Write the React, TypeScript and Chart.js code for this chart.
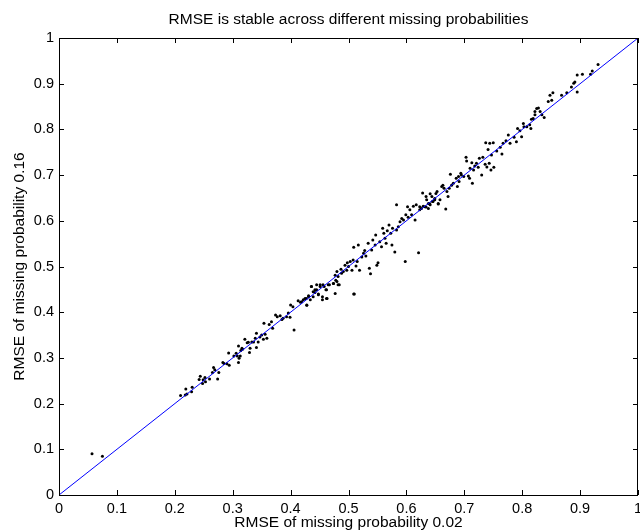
import React, { useEffect, useRef } from "react";
import { Chart, registerables } from "chart.js";

Chart.register(...registerables);

const chartTitle = "RMSE is stable across different missing probabilities";
const xAxisTitle = "RMSE of missing probability 0.02";
const yAxisTitle = "RMSE of missing probability 0.16";
const tickValues = [0, 0.1, 0.2, 0.3, 0.4, 0.5, 0.6, 0.7, 0.8, 0.9, 1];
const diagonalX = [0, 1];
const diagonalY = [0, 1];

// RMSE at missing probability 0.02 (x) and 0.16 (y)
const rmse002 = [
  0.057, 0.075,
  0.210, 0.218, 0.221, 0.219, 0.229, 0.230, 0.244, 0.242, 0.249, 0.248, 0.252, 0.253, 0.260, 0.267,
  0.269, 0.265, 0.276, 0.274, 0.283, 0.285, 0.290, 0.294, 0.293, 0.302, 0.306, 0.310, 0.308, 0.311,
  0.310, 0.314, 0.316, 0.321, 0.327, 0.330, 0.329, 0.333, 0.339, 0.341, 0.341, 0.344, 0.347, 0.350,
  0.353, 0.356, 0.359, 0.406,
  0.313, 0.317, 0.325, 0.336, 0.354, 0.363, 0.367, 0.369, 0.374, 0.377, 0.382, 0.385, 0.387, 0.393,
  0.396, 0.399, 0.400, 0.404, 0.413, 0.417, 0.422, 0.427, 0.428, 0.431, 0.434, 0.436, 0.439, 0.442,
  0.445, 0.448, 0.451, 0.455, 0.458, 0.462, 0.463, 0.467, 0.474, 0.477, 0.480, 0.482, 0.509,
  0.419, 0.425, 0.428, 0.431, 0.436, 0.439, 0.442, 0.445, 0.448, 0.451, 0.455, 0.456, 0.461, 0.462,
  0.465, 0.474, 0.477, 0.478, 0.480, 0.482, 0.484, 0.487, 0.488, 0.491, 0.494, 0.497, 0.498, 0.500,
  0.503, 0.506, 0.508, 0.509, 0.510, 0.513, 0.515, 0.517, 0.519, 0.523, 0.526, 0.528, 0.530, 0.534,
  0.536, 0.538, 0.540, 0.542, 0.546, 0.547, 0.549, 0.551, 0.554, 0.557, 0.559, 0.561, 0.563, 0.565,
  0.567, 0.570, 0.573, 0.575, 0.576, 0.580, 0.583, 0.583, 0.586, 0.589, 0.592, 0.595, 0.598, 0.599,
  0.602, 0.603, 0.606, 0.609, 0.612, 0.615, 0.617, 0.621, 0.623, 0.626, 0.629, 0.634, 0.638, 0.641,
  0.645, 0.649, 0.655, 0.668,
  0.623, 0.628, 0.632, 0.634, 0.635, 0.638, 0.640, 0.641, 0.644, 0.646, 0.649, 0.651, 0.653, 0.655,
  0.658, 0.661, 0.663, 0.665, 0.670, 0.672, 0.674, 0.676, 0.678, 0.681, 0.686, 0.688, 0.690, 0.691,
  0.694, 0.695, 0.699, 0.703, 0.704, 0.707, 0.709, 0.710, 0.713, 0.714, 0.716, 0.718, 0.721, 0.724,
  0.726, 0.730, 0.732, 0.736, 0.737, 0.739, 0.741, 0.743, 0.744, 0.746, 0.747, 0.750, 0.751, 0.756,
  0.762, 0.765, 0.767, 0.772, 0.776, 0.779, 0.786, 0.790, 0.792, 0.796, 0.799, 0.802, 0.803, 0.808,
  0.813, 0.815, 0.816, 0.819, 0.822, 0.822, 0.825, 0.828, 0.831, 0.834, 0.838, 0.845, 0.848, 0.851,
  0.853, 0.868, 0.877, 0.885, 0.889, 0.891, 0.895, 0.895, 0.904, 0.918, 0.921, 0.931,
];

const rmse016 = [
  0.090, 0.085,
  0.218, 0.219, 0.221, 0.232, 0.226, 0.236, 0.260, 0.253, 0.252, 0.244, 0.257, 0.248, 0.254, 0.279,
  0.274, 0.268, 0.268, 0.254, 0.290, 0.288, 0.287, 0.284, 0.311, 0.304, 0.310, 0.326, 0.304, 0.299,
  0.290, 0.316, 0.321, 0.341, 0.334, 0.321, 0.312, 0.335, 0.343, 0.354, 0.323, 0.335, 0.346, 0.350,
  0.341, 0.352, 0.343, 0.361,
  0.304, 0.319, 0.333, 0.335, 0.376, 0.373, 0.379, 0.365, 0.394, 0.390, 0.392, 0.384, 0.387, 0.390,
  0.398, 0.389, 0.416, 0.412, 0.425, 0.422, 0.427, 0.430, 0.416, 0.436, 0.427, 0.456, 0.434, 0.443,
  0.449, 0.438, 0.460, 0.427, 0.456, 0.449, 0.430, 0.460, 0.463, 0.441, 0.467, 0.460, 0.440,
  0.423, 0.430, 0.415, 0.434, 0.456, 0.445, 0.449, 0.460, 0.440, 0.456, 0.434, 0.460, 0.449, 0.430,
  0.460, 0.463, 0.481, 0.470, 0.489, 0.478, 0.460, 0.494, 0.485, 0.489, 0.503, 0.492, 0.508, 0.500,
  0.511, 0.492, 0.514, 0.542, 0.440, 0.501, 0.511, 0.547, 0.492, 0.521, 0.529, 0.535, 0.523, 0.551,
  0.496, 0.484, 0.536, 0.558, 0.547, 0.569, 0.503, 0.508, 0.554, 0.543, 0.584, 0.573, 0.562, 0.551,
  0.578, 0.591, 0.573, 0.547, 0.584, 0.532, 0.635, 0.580, 0.587, 0.598, 0.605, 0.602, 0.511, 0.613,
  0.631, 0.608, 0.624, 0.613, 0.632, 0.602, 0.635, 0.530, 0.631, 0.627, 0.632, 0.630, 0.638, 0.635,
  0.642, 0.646, 0.637, 0.626,
  0.624, 0.661, 0.631, 0.653, 0.646, 0.627, 0.638, 0.659, 0.653, 0.642, 0.649, 0.660, 0.664, 0.638,
  0.646, 0.675, 0.678, 0.671, 0.664, 0.653, 0.671, 0.702, 0.678, 0.682, 0.693, 0.675, 0.697, 0.686,
  0.704, 0.700, 0.697, 0.739, 0.731, 0.698, 0.693, 0.715, 0.727, 0.682, 0.711, 0.720, 0.726, 0.717,
  0.737, 0.700, 0.739, 0.724, 0.771, 0.718, 0.756, 0.726, 0.770, 0.711, 0.744, 0.771, 0.717, 0.753,
  0.761, 0.746, 0.770, 0.775, 0.788, 0.770, 0.783, 0.773, 0.802, 0.797, 0.784, 0.813, 0.806, 0.806,
  0.810, 0.802, 0.822, 0.824, 0.832, 0.839, 0.846, 0.847, 0.839, 0.832, 0.826, 0.861, 0.875, 0.864,
  0.880, 0.875, 0.880, 0.893, 0.901, 0.904, 0.882, 0.919, 0.921, 0.921, 0.928, 0.942,
];

const FONT = "'Liberation Sans', Arial, Helvetica, sans-serif";

const inwardTicks = {
  id: "inwardTicks",
  afterDraw(chart: any) {
    const { ctx, chartArea, scales } = chart;
    const { left, right, top, bottom } = chartArea;
    const len = 5;
    ctx.save();
    ctx.strokeStyle = "#000";
    ctx.lineWidth = 1;
    ctx.beginPath();
    for (const v of tickValues) {
      const x = Math.round(scales.x.getPixelForValue(v)) + 0.5;
      ctx.moveTo(x, bottom);
      ctx.lineTo(x, bottom - len);
      ctx.moveTo(x, top);
      ctx.lineTo(x, top + len);
      const y = Math.round(scales.y.getPixelForValue(v)) + 0.5;
      ctx.moveTo(left, y);
      ctx.lineTo(left + len, y);
      ctx.moveTo(right, y);
      ctx.lineTo(right - len, y);
    }
    ctx.stroke();
    ctx.beginPath();
    ctx.rect(Math.round(left) + 0.5, Math.round(top) + 0.5, Math.round(right - left) - 1, Math.round(bottom - top));
    ctx.stroke();
    ctx.restore();
  },
};

export default function App() {
  const ref = useRef<HTMLCanvasElement | null>(null);

  useEffect(() => {
    document.body.style.margin = "0";
    const canvas = ref.current;
    if (!canvas) return;
    const scatterData = rmse002.map((x, i) => ({ x, y: rmse016[i] }));
    const lineData = diagonalX.map((x, i) => ({ x, y: diagonalY[i] }));
    const fmt = (v: any) => {
      const n = Number(Number(v).toFixed(1));
      return tickValues.some((t) => Math.abs(t - n) < 1e-9) ? String(n) : "";
    };
    const chart = new Chart(canvas, {
      type: "scatter",
      data: {
        datasets: [
          {
            type: "line",
            label: "y = x",
            data: lineData,
            borderColor: "#0000ff",
            borderWidth: 1,
            pointRadius: 0,
            fill: false,
            showLine: true,
          } as any,
          {
            label: "RMSE",
            data: scatterData,
            backgroundColor: "#000",
            borderWidth: 0,
            pointRadius: 1.5,
            pointHoverRadius: 1.5,
          },
        ],
      },
      options: {
        responsive: false,
        animation: false,
        events: [],
        layout: { padding: { top: 0, right: 2, bottom: 0, left: 0 } },
        plugins: {
          legend: { display: false },
          tooltip: { enabled: false },
          title: {
            display: true,
            fullSize: false,
            text: chartTitle,
            color: "#000",
            font: { family: FONT, size: 15.5, weight: "normal", lineHeight: 1.15 },
            padding: { top: 11, bottom: 9.2 },
          },
        },
        scales: {
          x: {
            type: "linear",
            min: 0,
            max: 1,
            afterFit: (s: any) => {
              s.height = 37;
              s.paddingLeft = 0;
              s.paddingRight = 0;
            },
            afterBuildTicks: (s: any) => {
              s.ticks = tickValues.map((v) => ({ value: v }));
            },
            ticks: {
              callback: fmt,
              color: "#000",
              font: { family: FONT, size: 14.5 },
              padding: 5,
              maxRotation: 0,
              autoSkip: false,
            },
            grid: { display: false, drawTicks: false },
            border: { display: false },
            title: {
              display: true,
              text: xAxisTitle,
              color: "#000",
              font: { family: FONT, size: 15.5, lineHeight: 1.15 },
              padding: { top: 0, bottom: 0 },
            },
          },
          y: {
            type: "linear",
            min: 0,
            max: 1,
            afterFit: (s: any) => {
              s.width = 59;
              s.paddingTop = 0;
              s.paddingBottom = 0;
            },
            afterBuildTicks: (s: any) => {
              s.ticks = tickValues.map((v) => ({ value: v }));
            },
            ticks: {
              callback: fmt,
              color: "#000",
              font: { family: FONT, size: 14.5 },
              padding: 5,
              autoSkip: false,
            },
            grid: { display: false, drawTicks: false },
            border: { display: false },
            title: {
              display: true,
              text: yAxisTitle,
              color: "#000",
              font: { family: FONT, size: 15.5, lineHeight: 1.15 },
              padding: { top: 11, bottom: 0 },
            },
          },
        },
      },
      plugins: [inwardTicks],
    });
    return () => chart.destroy();
  }, []);

  return (
    <div style={{ width: 640, height: 532, background: "#fff" }}>
      <canvas ref={ref} width={640} height={532} style={{ display: "block" }} />
    </div>
  );
}
